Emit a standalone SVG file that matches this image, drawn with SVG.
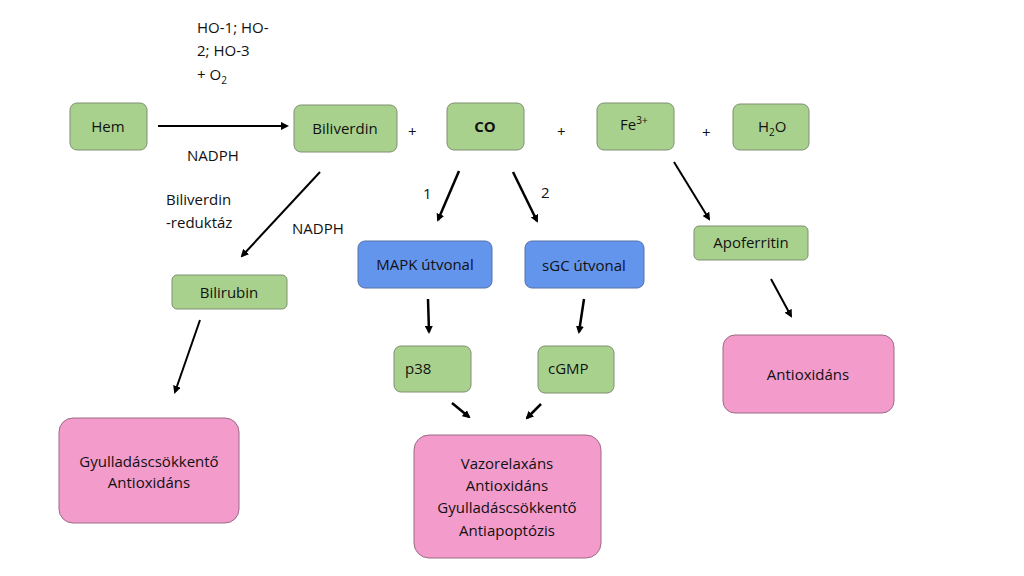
<svg xmlns="http://www.w3.org/2000/svg" width="1024" height="576" viewBox="0 0 1024 576">
<defs>
<marker id="ah" markerWidth="8" markerHeight="8" refX="6" refY="4" orient="auto" markerUnits="userSpaceOnUse"><path d="M0,0 L8,4 L0,8 z" fill="#000"/></marker>
<style>
text{font-family:"Open Sans","Liberation Sans",sans-serif;font-size:15px;fill:#111}
.g{fill:#A9D18E;stroke:#7f8f73;stroke-width:1}
.b{fill:#6495ED;stroke:#5670a8;stroke-width:1}
.p{fill:#F39BCB;stroke:#9a6b85;stroke-width:1}
.c line{stroke:#000;stroke-width:2.5;marker-end:url(#ah)}
.m{text-anchor:middle}
</style>
</defs>
<rect width="1024" height="576" fill="#fff"/>
<g id="hem"><rect class="g" x="70" y="103" width="77" height="47" rx="7"/><text class="m" x="108" y="132">Hem</text></g>
<g id="biliverdin"><rect class="g" x="294" y="105" width="103" height="47" rx="7"/><text class="m" x="345" y="134">Biliverdin</text></g>
<g id="co"><rect class="g" x="447" y="103" width="77" height="47" rx="7"/><text class="m" x="485" y="132" font-weight="bold">CO</text></g>
<g id="fe"><rect class="g" x="597" y="103" width="77" height="47" rx="7"/><text x="620" y="130">Fe<tspan font-size="10" dy="-6">3+</tspan></text></g>
<g id="h2o"><rect class="g" x="733" y="104" width="76" height="46" rx="7"/><text x="758" y="132">H<tspan font-size="10" dy="4">2</tspan><tspan dy="-4">O</tspan></text></g>
<g id="mapk"><rect class="b" x="358" y="241" width="134" height="47" rx="7"/><text class="m" x="425" y="270">MAPK útvonal</text></g>
<g id="sgc"><rect class="b" x="525" y="241" width="119" height="47" rx="7"/><text class="m" x="584" y="271">sGC útvonal</text></g>
<g id="bilirubin"><rect class="g" x="172" y="275" width="115" height="34" rx="5"/><text class="m" x="229" y="298">Bilirubin</text></g>
<g id="apoferritin"><rect class="g" x="694" y="226" width="114" height="34" rx="5"/><text class="m" x="751" y="248">Apoferritin</text></g>
<g id="p38"><rect class="g" x="394" y="346" width="77" height="46" rx="7"/><text x="405" y="374">p38</text></g>
<g id="cgmp"><rect class="g" x="538" y="346" width="76" height="47" rx="7"/><text x="548" y="374">cGMP</text></g>
<g id="antiox"><rect class="p" x="723" y="335" width="171" height="78" rx="12"/><text class="m" x="808" y="380">Antioxidáns</text></g>
<g id="gyull"><rect class="p" x="59" y="418" width="180" height="105" rx="14"/><text class="m" x="149" y="467">Gyulladáscsökkentő</text><text class="m" x="149" y="488">Antioxidáns</text></g>
<g id="vazo"><rect class="p" x="414" y="435" width="187" height="123" rx="15"/><text class="m" x="507" y="469">Vazorelaxáns</text><text class="m" x="507" y="491">Antioxidáns</text><text class="m" x="507" y="513">Gyulladáscsökkentő</text><text class="m" x="507" y="536">Antiapoptózis</text></g>
<g id="labels">
<text x="197" y="33">HO-1; HO-</text><text x="197" y="56">2; HO-3</text><text x="197" y="80">+ O<tspan font-size="10" dy="4">2</tspan></text>
<text x="187" y="161">NADPH</text>
<text x="166" y="205">Biliverdin</text><text x="166" y="228">-reduktáz</text>
<text x="292" y="234">NADPH</text>
<text x="423" y="199">1</text><text x="541" y="198">2</text>
<text x="408" y="137" font-size="20">+</text><text x="557" y="137" font-size="20">+</text><text x="702" y="138" font-size="20">+</text>
</g>
<g id="connectors" class="c">
<line x1="158" y1="126" x2="287" y2="126" style="stroke-width:2"/>
<line x1="320" y1="172" x2="242" y2="256" style="stroke-width:2"/>
<line x1="459" y1="171" x2="438" y2="220"/>
<line x1="513" y1="172" x2="537" y2="221"/>
<line x1="674" y1="162" x2="709" y2="219" style="stroke-width:2"/>
<line x1="428" y1="299" x2="429" y2="332"/>
<line x1="584" y1="299" x2="579" y2="332"/>
<line x1="452" y1="403" x2="469" y2="417"/>
<line x1="541" y1="404" x2="527" y2="418"/>
<line x1="771" y1="279" x2="791" y2="316" style="stroke-width:2"/>
<line x1="200" y1="320" x2="175" y2="392" style="stroke-width:2"/>
</g>
</svg>
